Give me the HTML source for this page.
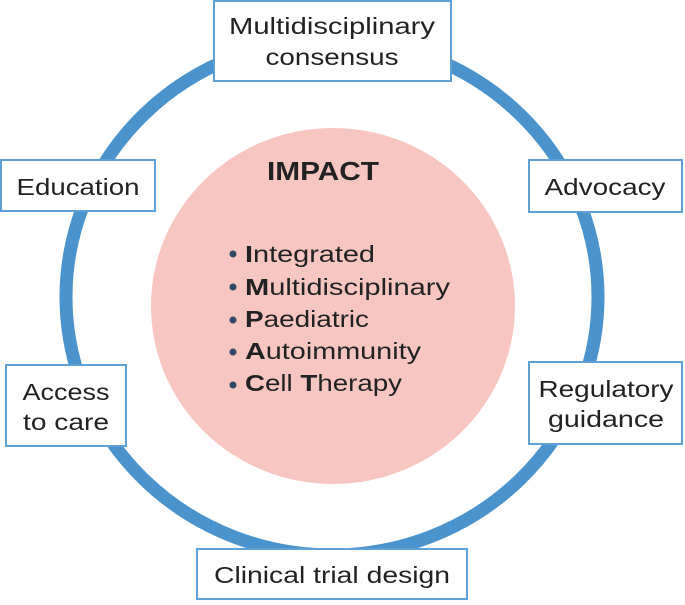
<!DOCTYPE html>
<html><head><style>
body{margin:0;background:#fff;}
svg text{font-family:"Liberation Sans",sans-serif;fill:#222;}
</style></head><body>
<svg width="685" height="600" viewBox="0 0 685 600" xmlns="http://www.w3.org/2000/svg">
<ellipse cx="332" cy="297" rx="266" ry="258" fill="none" stroke="#4b93cc" stroke-width="13"/>
<ellipse cx="333" cy="306" rx="182" ry="178" fill="#f8c6c1"/>
<text x="323" y="180" font-size="26" font-weight="bold" text-anchor="middle" textLength="112" lengthAdjust="spacingAndGlyphs">IMPACT</text>
<g font-size="23">
<circle cx="233" cy="254" r="3.5" fill="#2e4a66"/><text x="245" y="262" textLength="130" lengthAdjust="spacingAndGlyphs"><tspan font-weight="bold">I</tspan>ntegrated</text>
<circle cx="233" cy="287" r="3.5" fill="#2e4a66"/><text x="245" y="295" textLength="205" lengthAdjust="spacingAndGlyphs"><tspan font-weight="bold">M</tspan>ultidisciplinary</text>
<circle cx="233" cy="320" r="3.5" fill="#2e4a66"/><text x="245" y="327" textLength="124" lengthAdjust="spacingAndGlyphs"><tspan font-weight="bold">P</tspan>aediatric</text>
<circle cx="233" cy="352" r="3.5" fill="#2e4a66"/><text x="245" y="359" textLength="176" lengthAdjust="spacingAndGlyphs"><tspan font-weight="bold">A</tspan>utoimmunity</text>
<circle cx="233" cy="385" r="3.5" fill="#2e4a66"/><text x="245" y="391" textLength="157" lengthAdjust="spacingAndGlyphs"><tspan font-weight="bold">C</tspan>ell <tspan font-weight="bold">T</tspan>herapy</text>
</g>
<g fill="#fff" stroke="#5fa0d6" stroke-width="2">
<rect x="214" y="1" width="237" height="80"/>
<rect x="1" y="160" width="154" height="51"/>
<rect x="529" y="160" width="153" height="52"/>
<rect x="6" y="365" width="120" height="81"/>
<rect x="529" y="362" width="153" height="82"/>
<rect x="197" y="549" width="270" height="50"/>
</g>
<g font-size="23" text-anchor="middle">
<text x="332" y="34" textLength="206" lengthAdjust="spacingAndGlyphs">Multidisciplinary</text>
<text x="332" y="65" textLength="133" lengthAdjust="spacingAndGlyphs">consensus</text>
<text x="78" y="195" textLength="123" lengthAdjust="spacingAndGlyphs">Education</text>
<text x="605" y="195" textLength="121" lengthAdjust="spacingAndGlyphs">Advocacy</text>
<text x="66" y="400" textLength="87" lengthAdjust="spacingAndGlyphs">Access</text>
<text x="66" y="430" textLength="86" lengthAdjust="spacingAndGlyphs">to care</text>
<text x="606" y="397" textLength="135" lengthAdjust="spacingAndGlyphs">Regulatory</text>
<text x="606" y="427" textLength="116" lengthAdjust="spacingAndGlyphs">guidance</text>
<text x="332" y="583" textLength="236" lengthAdjust="spacingAndGlyphs">Clinical trial design</text>
</g>
</svg>
</body></html>
